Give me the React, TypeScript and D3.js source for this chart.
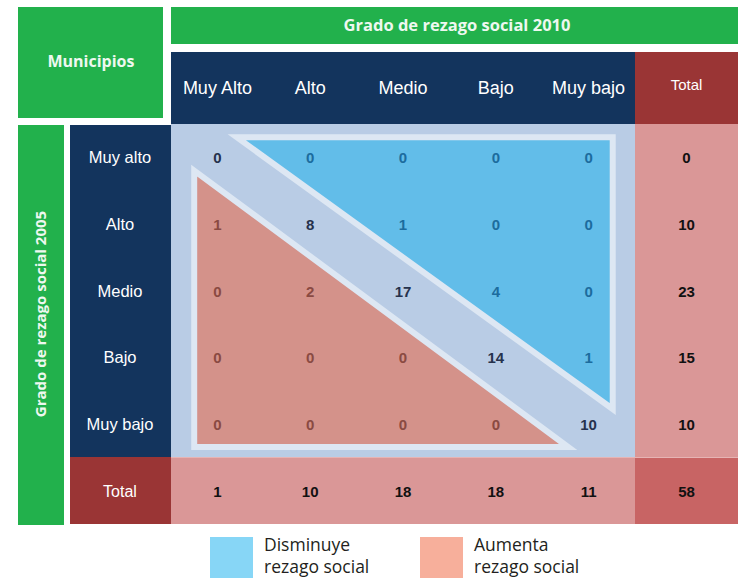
import React from "react";
import * as d3 from "d3";

const colLabels = ["Muy Alto", "Alto", "Medio", "Bajo", "Muy bajo"];
const rowLabels = ["Muy alto", "Alto", "Medio", "Bajo", "Muy bajo"];
const matrix = [
  [0, 0, 0, 0, 0],
  [1, 8, 1, 0, 0],
  [0, 2, 17, 4, 0],
  [0, 0, 0, 14, 1],
  [0, 0, 0, 0, 10],
];
const rowTotals = [0, 10, 23, 15, 10];
const colTotals = [1, 10, 18, 18, 11];
const grandTotal = 58;
// triangle vertices in grid units (column, row)
const blueTri: [number, number][] = [[0.71, 0.2], [4.76, 0.2], [4.76, 4.28]];
const redTri: [number, number][] = [[0.25, 0.7], [0.25, 4.85], [4.28, 4.85]];
const legendItems = [
  { lines: ["Disminuye", "rezago social"], color: "#87d6f6" },
  { lines: ["Aumenta", "rezago social"], color: "#f7af9b" },
];

const W = 738, H = 582;
const gx0 = 171, gx1 = 635, gy0 = 124, gy1 = 457;
const green = "#22b14c", navy = "#13345d", darkRed = "#9a3535";
const pink = "#da9797", corner = "#c86464", gridBg = "#b9cce5", borderC = "#dde7f3";
const sans = "Liberation Sans, Arial, sans-serif";
const hum = "Open Sans, Noto Sans, sans-serif";

export default function App() {
  const x = d3.scaleLinear().domain([0, 5]).range([gx0, gx1]);
  const y = d3.scaleLinear().domain([0, 5]).range([gy0, gy1]);
  const cx = (i: number) => x(i + 0.5);
  const cy = (i: number) => y(i + 0.5);
  const totY = (gy1 + 524) / 2;
  const totX = (gx1 + W) / 2;
  const line = d3.line<[number, number]>().x((d) => x(d[0])).y((d) => y(d[1])).curve(d3.curveLinearClosed);

  const numColor = (r: number, c: number) => (c > r ? "#1c6c9e" : c < r ? "#8a4a42" : "#26324d");

  return (
    <svg width={W} height={H} style={{ position: "absolute", left: 0, top: 0, background: "#fff" }}>
      {/* Municipios */}
      <rect x={18} y={7} width={145} height={111} fill={green} />
      <text x={91} y={67} fill="#eef8f0" fontFamily={hum} fontWeight={700} fontSize={16} textAnchor="middle">Municipios</text>
      {/* top green bar */}
      <rect x={gx0} y={7} width={W - gx0} height={37} fill={green} />
      <text x={457} y={31} fill="#eef8f0" fontFamily={hum} fontWeight={700} fontSize={16.5} textAnchor="middle">Grado de rezago social 2010</text>
      {/* column header */}
      <rect x={gx0} y={52} width={gx1 - gx0} height={gy0 - 52} fill={navy} />
      {colLabels.map((l, i) => (
        <text key={l} x={cx(i)} y={94} fill="#fff" fontFamily={sans} fontSize={18} textAnchor="middle">{l}</text>
      ))}
      <rect x={gx1} y={52} width={W - gx1} height={gy0 - 52} fill={darkRed} />
      <text x={totX} y={90} fill="#fff" fontFamily={sans} fontSize={15} textAnchor="middle">Total</text>
      {/* left vertical green */}
      <rect x={18} y={125} width={46} height={400} fill={green} />
      <text transform={`translate(46,314) rotate(-90)`} fill="#eef8f0" fontFamily={hum} fontWeight={700} fontSize={15} textAnchor="middle">Grado de rezago social 2005</text>
      {/* row header */}
      <rect x={70} y={125} width={gx0 - 70} height={gy1 - 125} fill={navy} />
      {rowLabels.map((l, i) => (
        <text key={l} x={120} y={cy(i) + 6} fill="#fff" fontFamily={sans} fontSize={16.5} textAnchor="middle">{l}</text>
      ))}
      <rect x={70} y={gy1} width={gx0 - 70} height={524 - gy1} fill={darkRed} />
      <text x={120} y={totY + 6} fill="#fff" fontFamily={sans} fontSize={16} textAnchor="middle">Total</text>
      {/* grid */}
      <rect x={gx0} y={gy0} width={gx1 - gx0} height={gy1 - gy0} fill={gridBg} />
      <path d={line(blueTri) || ""} fill="#62bde9" stroke={borderC} strokeWidth={6} strokeLinejoin="miter" />
      <path d={line(redTri) || ""} fill="#d4928a" stroke={borderC} strokeWidth={6} strokeLinejoin="miter" />
      {/* totals */}
      <rect x={gx1} y={gy0} width={W - gx1} height={gy1 - gy0} fill={pink} />
      <rect x={gx0} y={gy1} width={gx1 - gx0} height={524 - gy1} fill={pink} />
      <rect x={gx1} y={gy1} width={W - gx1} height={524 - gy1} fill={corner} />
      <line x1={gx0} x2={W} y1={gy1 + 0.5} y2={gy1 + 0.5} stroke="#e6b4b4" strokeWidth={1} />
      {matrix.map((row, r) =>
        row.map((v, c) => (
          <text key={`${r}-${c}`} x={cx(c)} y={cy(r) + 6} fill={numColor(r, c)} fontFamily={sans} fontWeight={700} fontSize={15} textAnchor="middle">{v}</text>
        ))
      )}
      {rowTotals.map((v, r) => (
        <text key={`rt${r}`} x={totX} y={cy(r) + 6} fill="#111" fontFamily={sans} fontWeight={700} fontSize={15} textAnchor="middle">{v}</text>
      ))}
      {colTotals.map((v, c) => (
        <text key={`ct${c}`} x={cx(c)} y={totY + 6} fill="#111" fontFamily={sans} fontWeight={700} fontSize={15} textAnchor="middle">{v}</text>
      ))}
      <text x={totX} y={totY + 6} fill="#111" fontFamily={sans} fontWeight={700} fontSize={15} textAnchor="middle">{grandTotal}</text>
      {/* legend */}
      {legendItems.map((it, i) => {
        const lx = i === 0 ? 210 : 420;
        return (
          <g key={i}>
            <rect x={lx} y={537} width={43} height={41} fill={it.color} />
            {it.lines.map((t, j) => (
              <text key={j} x={lx + 54} y={551 + j * 22} fill="#231f20" fontFamily={hum} fontSize={17.5}>{t}</text>
            ))}
          </g>
        );
      })}
    </svg>
  );
}
